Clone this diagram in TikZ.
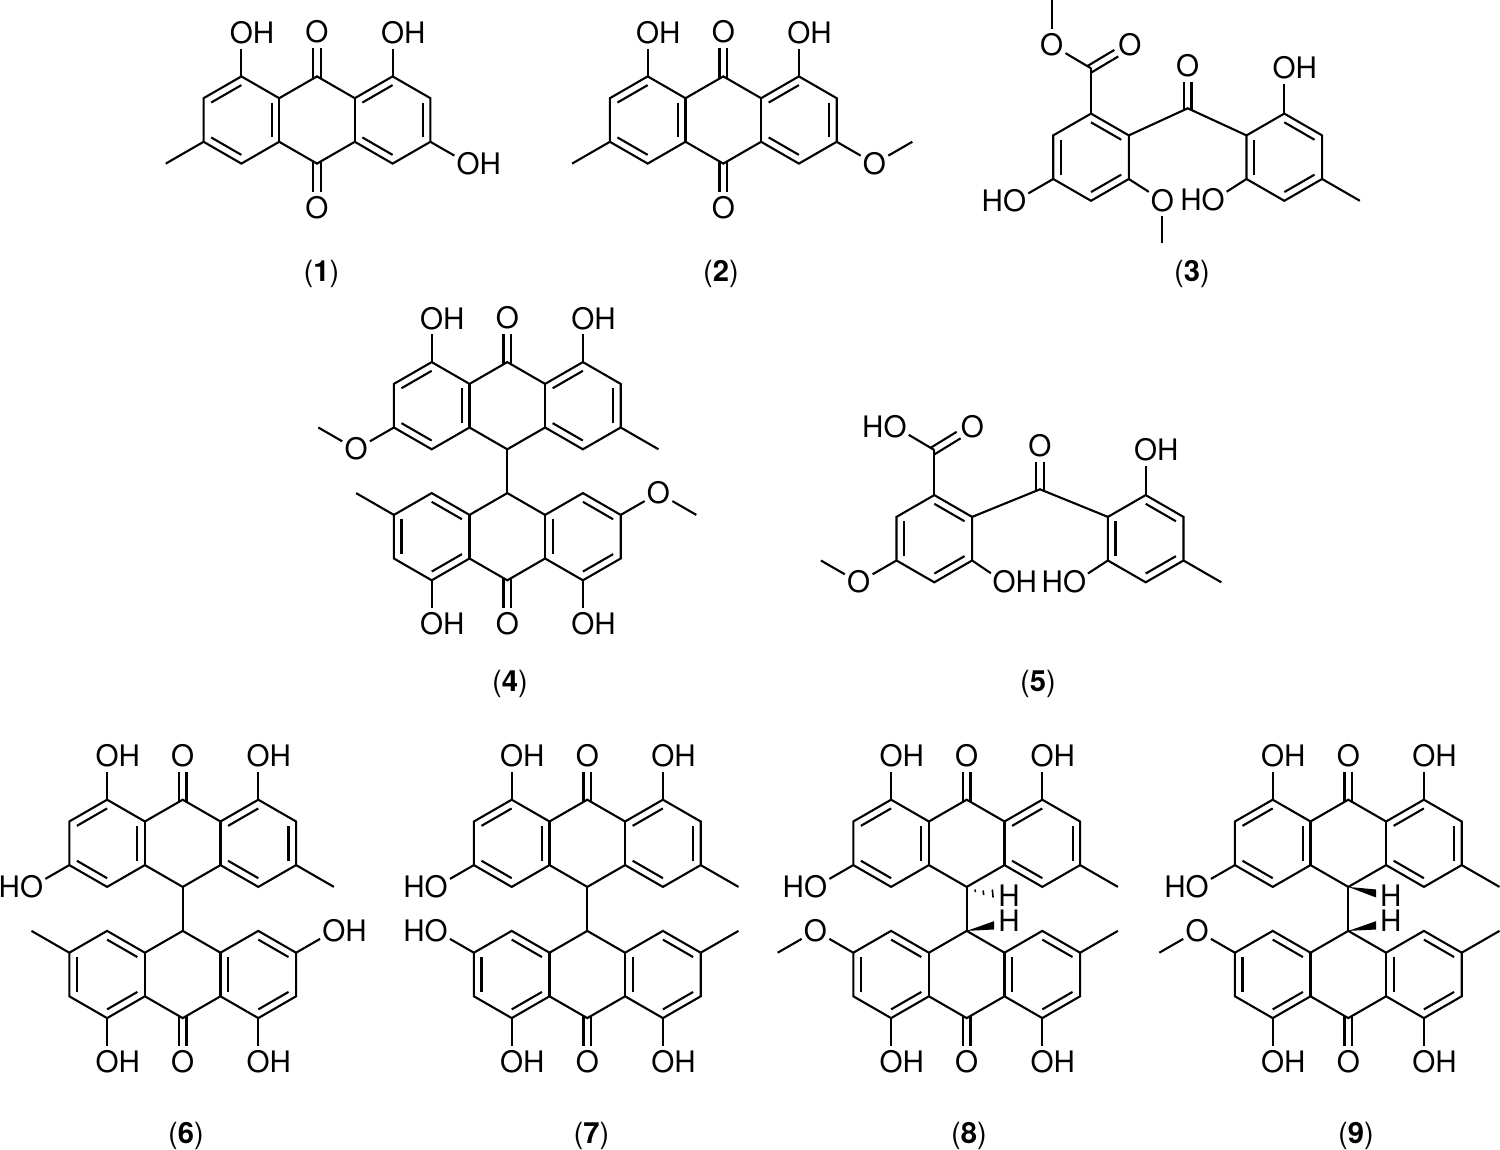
\documentclass[tikz,border=0pt]{standalone}
\usepackage{fontspec}
\setmainfont{TeX Gyre Heros}
\usetikzlibrary{calc}
\tikzset{
  bond/.style={line width=1.05pt,line cap=butt,line join=miter,draw=black},
  lbl/.style={anchor=base,inner sep=0pt,outer sep=0pt,text=black,font=\fontsize{14.8}{16}\selectfont},
  captxt/.style={anchor=base,inner sep=0pt,outer sep=0pt,text=black,font=\fontsize{14.6}{16}\selectfont},
}
\def\dx{37.8}\def\dy{21.8}
% anthracene-type skeleton
\newcommand{\anth}[3]{%
  \coordinate (#1-T) at (#2,#3-43.6);
  \coordinate (#1-B) at (#2,#3+43.6);
  \coordinate (#1-SUL) at (#2-37.8,#3-21.8);
  \coordinate (#1-SLL) at (#2-37.8,#3+21.8);
  \coordinate (#1-SUR) at (#2+37.8,#3-21.8);
  \coordinate (#1-SLR) at (#2+37.8,#3+21.8);
  \coordinate (#1-LT) at (#2-75.6,#3-43.6);
  \coordinate (#1-LB) at (#2-75.6,#3+43.6);
  \coordinate (#1-LUL) at (#2-113.4,#3-21.8);
  \coordinate (#1-LLL) at (#2-113.4,#3+21.8);
  \coordinate (#1-RT) at (#2+75.6,#3-43.6);
  \coordinate (#1-RB) at (#2+75.6,#3+43.6);
  \coordinate (#1-RUR) at (#2+113.4,#3-21.8);
  \coordinate (#1-RLR) at (#2+113.4,#3+21.8);
  \coordinate (#1-LC) at (#2-75.6,#3);
  \coordinate (#1-RC) at (#2+75.6,#3);
  \draw[bond] (#1-T) -- (#1-SUR) -- (#1-RT) -- (#1-RUR) -- (#1-RLR) -- (#1-RB) -- (#1-SLR) -- (#1-B) -- (#1-SLL) -- (#1-LB) -- (#1-LLL) -- (#1-LUL) -- (#1-LT) -- (#1-SUL) -- cycle;
  \draw[bond] (#1-SUL) -- (#1-SLL);
  \draw[bond] (#1-SUR) -- (#1-SLR);
}
\newcommand{\ring}[3]{%
  \coordinate (#1-T) at (#2,#3-43.6);
  \coordinate (#1-B) at (#2,#3+43.6);
  \coordinate (#1-UL) at (#2-37.8,#3-21.8);
  \coordinate (#1-LL) at (#2-37.8,#3+21.8);
  \coordinate (#1-UR) at (#2+37.8,#3-21.8);
  \coordinate (#1-LR) at (#2+37.8,#3+21.8);
  \coordinate (#1-C) at (#2,#3);
  \draw[bond] (#1-T) -- (#1-UR) -- (#1-LR) -- (#1-B) -- (#1-LL) -- (#1-UL) -- cycle;
}
\newcommand{\dbl}[3]{\draw[bond] ($(#1)!.2!(#3)$) -- ($(#2)!.2!(#3)$);}
\newcommand{\patA}[1]{%
  \dbl{#1-LT}{#1-LUL}{#1-LC}\dbl{#1-LLL}{#1-LB}{#1-LC}\dbl{#1-SUL}{#1-SLL}{#1-LC}%
  \dbl{#1-SUR}{#1-RT}{#1-RC}\dbl{#1-RUR}{#1-RLR}{#1-RC}\dbl{#1-SLR}{#1-RB}{#1-RC}}
\newcommand{\patB}[1]{%
  \dbl{#1-RT}{#1-RUR}{#1-RC}\dbl{#1-RLR}{#1-RB}{#1-RC}\dbl{#1-SUR}{#1-SLR}{#1-RC}%
  \dbl{#1-SUL}{#1-LT}{#1-LC}\dbl{#1-LUL}{#1-LLL}{#1-LC}\dbl{#1-SLL}{#1-LB}{#1-LC}}
\newcommand{\patR}[1]{\dbl{#1-T}{#1-UR}{#1-C}\dbl{#1-UL}{#1-LL}{#1-C}\dbl{#1-LR}{#1-B}{#1-C}}
% #1 from, #2,#3 offset, #4 text, #5 text shift
\newcommand{\sub}[5]{%
  \coordinate (#1-X) at ($(#1)+(#2,#3)$);
  \node[lbl] (#1-L) at ($(#1-X)+(#5,10.6)$) {#4};
  \draw[bond] (#1) -- ($(#1-X)!8pt!(#1)$);
}
\newcommand{\OH}[3]{\sub{#1}{#2}{#3}{OH}{10.6}}
\newcommand{\HO}[3]{\sub{#1}{#2}{#3}{HO}{-10.6}}
\newcommand{\Me}[3]{\coordinate (#1-M) at ($(#1)+(#2,#3)$);\draw[bond] (#1) -- (#1-M);}
% O-methyl: #1 from, #2,#3 to O, #4,#5 O to CH3
\newcommand{\OMe}[5]{%
  \sub{#1}{#2}{#3}{O}{0}
  \coordinate (#1-M) at ($(#1-X)+(#4,#5)$);
  \draw[bond] ($(#1-X)!8pt!(#1-M)$) -- (#1-M);
}
% C=O: #1 from, #2,#3 offset
\newcommand{\CO}[3]{%
  \coordinate (#1-X) at ($(#1)+(#2,#3)$);
  \node[lbl] (#1-L) at ($(#1-X)+(0,10.6)$) {O};
  \coordinate (#1-Q) at ($(#1-X)!8pt!(#1)$);
  \coordinate (#1-P) at ($(#1)!-1.1pt!(#1-X)$);
  \draw[bond] ($(#1-P)!1.9pt!90:(#1-X)$) -- ($(#1-Q)!1.9pt!-90:(#1-P)$);
  \draw[bond] ($(#1-P)!1.9pt!-90:(#1-X)$) -- ($(#1-Q)!1.9pt!90:(#1-P)$);
}
\newcommand{\capt}[4]{\node[captxt] (#1) at (#2,#3) {(\textbf{#4})};}
\begin{document}
\begin{tikzpicture}[x=0.5pt,y=-0.5pt]
\useasboundingbox (0,0) rectangle (1500,1150);
\fill[white] (0,0) rectangle (1500,1150);
% 1
\anth{a}{317}{120}\patA{a}
\CO{a-T}{0}{-44}\CO{a-B}{0}{44}
\OH{a-LT}{0}{-43.6}\OH{a-RT}{0}{-43.6}
\Me{a-LLL}{-\dx}{\dy}\OH{a-RLR}{\dx}{\dy}
\capt{n1}{321.5}{282}{1}
% 2
\anth{b}{723.3}{120}\patA{b}
\CO{b-T}{0}{-44}\CO{b-B}{0}{44}
\OH{b-LT}{0}{-43.6}\OH{b-RT}{0}{-43.6}
\Me{b-LLL}{-\dx}{\dy}\OMe{b-RLR}{\dx}{\dy}{\dx}{-\dy}
\capt{n2}{721}{282}{2}
% 3
\ring{c}{1091}{157.2}\patR{c}
\ring{d}{1284.3}{157.2}
\dbl{d-T}{d-UR}{d-C}\dbl{d-UL}{d-LL}{d-C}\dbl{d-LR}{d-B}{d-C}
\coordinate (c-K) at (1091,68.3);
\draw[bond] (c-T) -- (c-K);
\coordinate (c-E) at (1051.7,45);
\node[lbl] (c-EL) at (1051.7,55.6) {O};
\draw[bond] (c-K) -- ($(c-E)!8pt!(c-K)$);
\coordinate (c-EM) at (1051.7,0);
\draw[bond] ($(c-E)!8pt!(c-EM)$) -- (c-EM);
\CO{c-K}{39}{-23.3}
\coordinate (k3) at (1187.7,108.3);
\draw[bond] (c-UR) -- (k3) -- (d-UL);
\CO{k3}{0}{-42.6}
\OH{d-T}{0}{-46}
\Me{d-LR}{\dx}{\dy}
\HO{d-LL}{-33.4}{21.4}
\HO{c-LL}{-38.7}{22.4}
\OMe{c-LR}{33.5}{21.5}{0}{43}
\capt{n3}{1192}{282}{3}
% 4
\anth{e}{507.3}{405.7}\patA{e}
\anth{f}{507.3}{536.7}\patB{f}
\draw[bond] (e-B) -- (f-T);
\CO{e-T}{0}{-44}\CO{f-B}{0}{44}
\OH{e-LT}{0}{-43.6}\OH{e-RT}{0}{-43.6}
\OH{f-LB}{0}{43.6}\OH{f-RB}{0}{43.6}
\OMe{e-LLL}{-\dx}{\dy}{-\dx}{-\dy}
\Me{e-RLR}{\dx}{\dy}
\Me{f-LUL}{-\dx}{-\dy}
\OMe{f-RUR}{\dx}{-\dy}{\dx}{\dy}
\capt{n4}{510}{691}{4}
% 5
\ring{g}{934.3}{538.7}\patR{g}
\ring{h}{1145.7}{538.7}\patR{h}
\coordinate (g-K) at (934.3,450);
\draw[bond] (g-T) -- (g-K);
\coordinate (g-HO) at (895,426.7);
\node[lbl] (g-HOL) at (884.4,437.3) {HO};
\draw[bond] (g-K) -- ($(g-HO)!8pt!(g-K)$);
\CO{g-K}{38}{-23.3}
\coordinate (k5) at (1040,489.3);
\draw[bond] (g-UR) -- (k5) -- (h-UL);
\CO{k5}{0}{-43}
\OH{h-T}{0}{-45}
\Me{h-LR}{\dx}{\dy}
\HO{h-LL}{-33.4}{21.7}
\OH{g-LR}{32}{21.7}
\OMe{g-LL}{-\dx}{\dy}{-\dx}{-\dy}
\capt{n5}{1038}{691}{5}
% 6
\anth{i}{182.7}{843.3}\patA{i}
\anth{j}{182.7}{974.5}\patB{j}
\draw[bond] (i-B) -- (j-T);
\CO{i-T}{0}{-44}\CO{j-B}{0}{44}
\OH{i-LT}{0}{-43.6}\OH{i-RT}{0}{-43.6}
\OH{j-LB}{0}{43.6}\OH{j-RB}{0}{43.6}
\HO{i-LLL}{-\dx}{\dy}\Me{i-RLR}{\dx}{\dy}
\Me{j-LUL}{-\dx}{-\dy}\OH{j-RUR}{\dx}{-\dy}
\capt{n6}{186}{1143}{6}
% 7
\anth{k}{587.3}{843.3}\patA{k}
\anth{l}{587.3}{974.5}\patB{l}
\draw[bond] (k-B) -- (l-T);
\CO{k-T}{0}{-44}\CO{l-B}{0}{44}
\OH{k-LT}{0}{-43.6}\OH{k-RT}{0}{-43.6}
\OH{l-LB}{0}{43.6}\OH{l-RB}{0}{43.6}
\HO{k-LLL}{-\dx}{\dy}\Me{k-RLR}{\dx}{\dy}
\HO{l-LUL}{-\dx}{-\dy}\Me{l-RUR}{\dx}{-\dy}
\capt{n7}{591.5}{1143}{7}
% 8
\anth{m}{966.7}{843.3}\patA{m}
\anth{o}{966.7}{974.5}\patB{o}
\draw[bond] (m-B) -- (o-T);
\CO{m-T}{0}{-44}\CO{o-B}{0}{44}
\OH{m-LT}{0}{-43.6}\OH{m-RT}{0}{-43.6}
\OH{o-LB}{0}{43.6}\OH{o-RB}{0}{43.6}
\HO{m-LLL}{-\dx}{\dy}\Me{m-RLR}{\dx}{\dy}
\OMe{o-LUL}{-\dx}{-\dy}{-\dx}{\dy}\Me{o-RUR}{\dx}{-\dy}
\node[lbl] (m-H) at (1009,906.6) {H};
\node[lbl] (o-H) at (1009,931.6) {H};
\draw[line width=0.8pt] ($(m-B)+(8.3,2.6)$) -- ($(m-B)+(8.7,5.2)$);
\draw[line width=0.8pt] ($(m-B)+(16.4,3.6)$) -- ($(m-B)+(17,8)$);
\draw[line width=0.8pt] ($(m-B)+(25.6,2.6)$) -- ($(m-B)+(26.4,10.6)$);
\fill (o-T) -- ($(o-T)+(27.3,-9.7)$) -- ($(o-T)+(27.3,-1.4)$) -- cycle;
\capt{n8}{969}{1143}{8}
% 9
\anth{p}{1348.3}{843.3}\patA{p}
\anth{q}{1348.3}{974.5}\patB{q}
\draw[bond] (p-B) -- (q-T);
\CO{p-T}{0}{-44}\CO{q-B}{0}{44}
\OH{p-LT}{0}{-43.6}\OH{p-RT}{0}{-43.6}
\OH{q-LB}{0}{43.6}\OH{q-RB}{0}{43.6}
\HO{p-LLL}{-\dx}{\dy}\Me{p-RLR}{\dx}{\dy}
\OMe{q-LUL}{-\dx}{-\dy}{-\dx}{\dy}\Me{q-RUR}{\dx}{-\dy}
\node[lbl] (p-H) at (1390.7,906.6) {H};
\node[lbl] (q-H) at (1390.7,931.6) {H};
\fill (p-B) -- ($(p-B)+(27.7,2.6)$) -- ($(p-B)+(27.7,10.6)$) -- cycle;
\fill (q-T) -- ($(q-T)+(27.7,-9.7)$) -- ($(q-T)+(27.7,-1.4)$) -- cycle;
\capt{n9}{1356}{1143}{9}
\end{tikzpicture}
\end{document}
